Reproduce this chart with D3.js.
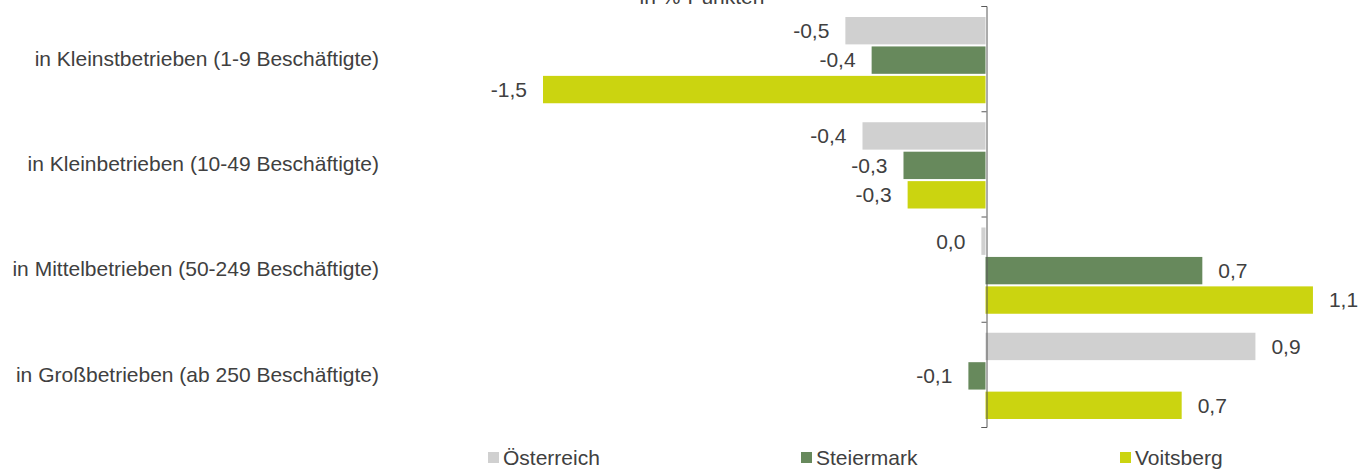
<!DOCTYPE html>
<meta charset="utf-8">
<style>
    body {
        margin: 0;
        background: #fff;
    }

    text {
        font: 21px "Liberation Sans", Arial, sans-serif;
        fill: #404040;
    }

    .axis path,
    .axis line {
        stroke: #595959;
        stroke-width: 1px;
    }
</style>
<script src="https://d3js.org/d3.v7.min.js"></script>

<div id="chart"></div>

<script>
var categories = [
    "in Kleinstbetrieben (1-9 Beschäftigte)",
    "in Kleinbetrieben (10-49 Beschäftigte)",
    "in Mittelbetrieben (50-249 Beschäftigte)",
    "in Großbetrieben (ab 250 Beschäftigte)"
];
var seriesNames = ["Österreich", "Steiermark", "Voitsberg"];
var seriesColors = ["#d0d0d0", "#67895c", "#cbd410"];

// Veränderung in %-Punkten (aus dem Bild geschätzt)
var oesterreich = [-0.475, -0.417, -0.014, 0.915];
var steiermark = [-0.386, -0.278, 0.735, -0.058];
var voitsberg = [-1.50, -0.264, 1.11, 0.665];

var unitLabel = "in %-Punkten";

var seriesValues = [oesterreich, steiermark, voitsberg];

var width = 1368,
    height = 470;

var svg = d3.select("#chart").append("svg")
    .attr("width", width)
    .attr("height", height);

var x = d3.scaleLinear()
    .domain([-1.6, 1.2])
    .range([513.5, 1339.5]);

var y = d3.scaleBand()
    .domain(categories)
    .range([6, 427]);

var yInner = d3.scaleBand()
    .domain(seriesNames)
    .range([11, y.bandwidth() - 8])
    .paddingInner(0.07);

var de = d3.formatLocale({ decimal: ",", thousands: ".", grouping: [3], currency: ["", " €"], minus: "-" });
var fmt = de.format(".1f");
function label(v) { return fmt(Math.round(v * 10) / 10 || 0); }

var rows = [];
categories.forEach(function (c, i) {
    seriesNames.forEach(function (s, j) {
        rows.push({ cat: c, series: s, color: seriesColors[j], value: seriesValues[j][i] });
    });
});

var g = svg.append("g");

var bar = g.selectAll(".bar")
    .data(rows)
    .enter().append("g")
    .attr("class", "bar")
    .attr("transform", function (d) { return "translate(0," + (y(d.cat) + yInner(d.series)) + ")"; });

bar.append("rect")
    .attr("x", function (d) { return x(Math.min(0, d.value)); })
    .attr("width", function (d) { return Math.abs(x(d.value) - x(0)); })
    .attr("height", yInner.bandwidth())
    .attr("fill", function (d) { return d.color; });

bar.append("text")
    .attr("x", function (d) { return d.value < 0 ? x(d.value) - 16 : x(d.value) + 16; })
    .attr("y", yInner.bandwidth() / 2)
    .attr("dy", "0.35em")
    .attr("text-anchor", function (d) { return d.value < 0 ? "end" : "start"; })
    .text(function (d) { return label(d.value); });

// axis at zero with ticks on category boundaries
var yEdge = d3.scaleLinear().domain([0, categories.length]).range(y.range());
svg.append("g")
    .attr("class", "axis")
    .attr("transform", "translate(" + (Math.round(x(0)) + 0.5) + ",0)")
    .call(d3.axisLeft(yEdge).ticks(categories.length).tickSize(5).tickFormat(""));

svg.selectAll(".cat")
    .data(categories)
    .enter().append("text")
    .attr("class", "cat")
    .attr("x", 379)
    .attr("y", function (d) { return y(d) + y.bandwidth() / 2; })
    .attr("dy", "0.35em")
    .attr("text-anchor", "end")
    .text(function (d) { return d; });

svg.append("text")
    .attr("x", 702)
    .attr("y", 4)
    .attr("text-anchor", "middle")
    .text(unitLabel);

var legend = svg.selectAll(".legend")
    .data(seriesNames)
    .enter().append("g")
    .attr("class", "legend")
    .attr("transform", function (d, i) { return "translate(" + [488, 801, 1120][i] + ",0)"; });

legend.append("rect")
    .attr("y", 452)
    .attr("width", 11)
    .attr("height", 11)
    .attr("fill", function (d, i) { return seriesColors[i]; });

legend.append("text")
    .attr("x", 15)
    .attr("y", 458)
    .attr("dy", "0.35em")
    .text(function (d) { return d; });
</script>
